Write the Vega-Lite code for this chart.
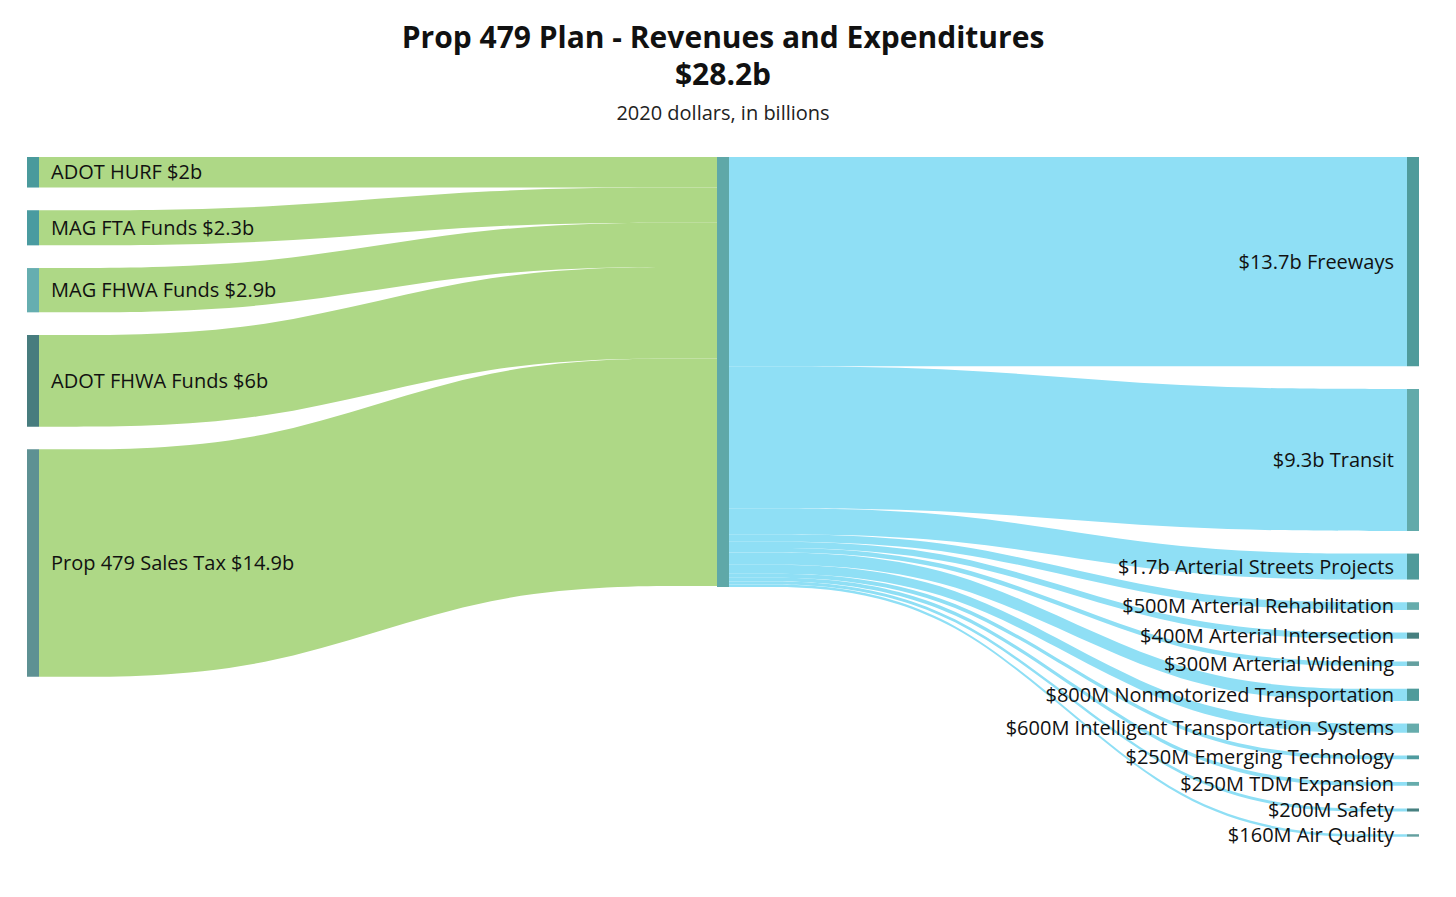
{
  "$schema": "https://vega.github.io/schema/vega-lite/v6.json",
  "width": 1392,
  "height": 681,
  "autosize": {"type": "none"},
  "padding": {"left": 27, "top": 157, "right": 37, "bottom": 59},
  "background": "white",
  "config": {"view": {"stroke": null}},
  "title": {
    "text": ["Prop 479 Plan - Revenues and Expenditures", "$28.2b"],
    "subtitle": "2020 dollars, in billions",
    "anchor": "middle",
    "font": "Open Sans",
    "fontSize": 30,
    "fontWeight": "bold",
    "color": "#111111",
    "lineHeight": 37,
    "subtitleFont": "Open Sans",
    "subtitleFontSize": 20,
    "subtitleColor": "#222222",
    "subtitlePadding": 13,
    "offset": 33
  },
  "data": {
    "values": [
      {"stage": 0, "rank": 1, "node": "ADOT HURF $2b", "value": 2},
      {"stage": 0, "rank": 2, "node": "MAG FTA Funds $2.3b", "value": 2.3},
      {"stage": 0, "rank": 3, "node": "MAG FHWA Funds $2.9b", "value": 2.9},
      {"stage": 0, "rank": 4, "node": "ADOT FHWA Funds $6b", "value": 6},
      {"stage": 0, "rank": 5, "node": "Prop 479 Sales Tax $14.9b", "value": 14.9},
      {"stage": 1, "rank": 1, "node": "$13.7b Freeways", "value": 13.7},
      {"stage": 1, "rank": 2, "node": "$9.3b Transit", "value": 9.3},
      {"stage": 1, "rank": 3, "node": "$1.7b Arterial Streets Projects", "value": 1.7},
      {"stage": 1, "rank": 4, "node": "$500M Arterial Rehabilitation", "value": 0.5},
      {"stage": 1, "rank": 5, "node": "$400M Arterial Intersection", "value": 0.4},
      {"stage": 1, "rank": 6, "node": "$300M Arterial Widening", "value": 0.3},
      {"stage": 1, "rank": 7, "node": "$800M Nonmotorized Transportation", "value": 0.8},
      {"stage": 1, "rank": 8, "node": "$600M Intelligent Transportation Systems", "value": 0.6},
      {"stage": 1, "rank": 9, "node": "$250M Emerging Technology", "value": 0.25},
      {"stage": 1, "rank": 10, "node": "$250M TDM Expansion", "value": 0.25},
      {"stage": 1, "rank": 11, "node": "$200M Safety", "value": 0.2},
      {"stage": 1, "rank": 12, "node": "$160M Air Quality", "value": 0.16}
    ]
  },
  "transform": [
    {"window": [{"op": "sum", "field": "value", "as": "cumsum"}], "groupby": ["stage"], "sort": [{"field": "rank", "order": "ascending"}], "frame": [null, 0]},
    {"calculate": "datum.cumsum - datum.value", "as": "cum"},
    {"calculate": "datum.cum + (datum.rank - 1) * 1.4866", "as": "o0"},
    {"calculate": "datum.o0 + datum.value", "as": "o1"},
    {"calculate": "(datum.o0 + datum.o1) / 2", "as": "om"},
    {"calculate": "datum.cum + datum.value", "as": "i1"},
    {"calculate": "datum.stage == 0 ? 0 : 2 - 0.01724", "as": "nx0"},
    {"calculate": "datum.nx0 + 0.01724", "as": "nx1"}
  ],
  "layer": [
    {
      "transform": [
        {"calculate": "datum.stage == 0 ? 0.01724 : 1 + 0.00862", "as": "xs"},
        {"calculate": "datum.stage == 0 ? 1 - 0.00862 : 2 - 0.01724", "as": "xt"},
        {"calculate": "datum.stage == 0 ? datum.o0 : datum.cum", "as": "sy0"},
        {"calculate": "datum.stage == 0 ? datum.cum : datum.o0", "as": "ty0"},
        {"calculate": "[0, 1, 2, 3]", "as": "p"},
        {"flatten": ["p"]},
        {"calculate": "datum.xs + (datum.xt - datum.xs) * datum.p / 3", "as": "px"},
        {"calculate": "datum.p < 2 ? datum.sy0 : datum.ty0", "as": "py0"},
        {"calculate": "datum.py0 + datum.value", "as": "py1"}
      ],
      "mark": {"type": "area", "interpolate": "basis"},
      "encoding": {
        "x": {"field": "px", "type": "quantitative", "scale": {"domain": [0, 2]}, "axis": null},
        "y": {"field": "py0", "type": "quantitative", "scale": {"domain": [0, 44.6], "reverse": true}, "axis": null},
        "y2": {"field": "py1"},
        "detail": {"field": "node", "type": "nominal"},
        "color": {"field": "stage", "type": "nominal", "scale": {"domain": [0, 1], "range": ["#aed886", "#8fdff5"]}, "legend": null}
      }
    },
    {
      "mark": {"type": "rect"},
      "encoding": {
        "x": {"field": "nx0", "type": "quantitative", "scale": {"domain": [0, 2]}, "axis": null},
        "x2": {"field": "nx1"},
        "y": {"field": "o0", "type": "quantitative", "scale": {"domain": [0, 44.6], "reverse": true}, "axis": null},
        "y2": {"field": "o1"},
        "color": {
          "field": "node",
          "type": "nominal",
          "scale": {
            "domain": ["ADOT HURF $2b", "MAG FTA Funds $2.3b", "MAG FHWA Funds $2.9b", "ADOT FHWA Funds $6b", "Prop 479 Sales Tax $14.9b", "$13.7b Freeways", "$9.3b Transit", "$1.7b Arterial Streets Projects", "$500M Arterial Rehabilitation", "$400M Arterial Intersection", "$300M Arterial Widening", "$800M Nonmotorized Transportation", "$600M Intelligent Transportation Systems", "$250M Emerging Technology", "$250M TDM Expansion", "$200M Safety", "$160M Air Quality"],
            "range": ["#4a9a9c", "#4a9ba0", "#66aeb0", "#477c7e", "#5e9193", "#4f9b9b", "#62aaaa", "#4f9a9a", "#66acac", "#478080", "#64a0a0", "#4f9b9b", "#66acac", "#4f9b9f", "#66acac", "#478080", "#64a0a0"]
          },
          "legend": null
        }
      }
    },
    {
      "transform": [
        {"aggregate": [{"op": "max", "field": "i1", "as": "mtop"}]},
        {"calculate": "1 - 0.00862", "as": "mx0"},
        {"calculate": "1 + 0.00862", "as": "mx1"},
        {"calculate": "0", "as": "m0"}
      ],
      "mark": {"type": "rect", "color": "#5fa8a8"},
      "encoding": {
        "x": {"field": "mx0", "type": "quantitative", "scale": {"domain": [0, 2]}, "axis": null},
        "x2": {"field": "mx1"},
        "y": {"field": "m0", "type": "quantitative", "scale": {"domain": [0, 44.6], "reverse": true}, "axis": null},
        "y2": {"field": "mtop"}
      }
    },
    {
      "transform": [{"filter": "datum.stage == 0"}],
      "mark": {"type": "text", "align": "left", "baseline": "middle", "dx": 12, "dy": 1, "fontSize": 20, "font": "Open Sans", "color": "#111111"},
      "encoding": {
        "x": {"field": "nx1", "type": "quantitative", "scale": {"domain": [0, 2]}, "axis": null},
        "y": {"field": "om", "type": "quantitative", "scale": {"domain": [0, 44.6], "reverse": true}, "axis": null},
        "text": {"field": "node", "type": "nominal"}
      }
    },
    {
      "transform": [{"filter": "datum.stage == 1"}],
      "mark": {"type": "text", "align": "right", "baseline": "middle", "dx": -13, "dy": 1, "fontSize": 20, "font": "Open Sans", "color": "#111111"},
      "encoding": {
        "x": {"field": "nx0", "type": "quantitative", "scale": {"domain": [0, 2]}, "axis": null},
        "y": {"field": "om", "type": "quantitative", "scale": {"domain": [0, 44.6], "reverse": true}, "axis": null},
        "text": {"field": "node", "type": "nominal"}
      }
    }
  ],
  "resolve": {"scale": {"color": "independent"}}
}
